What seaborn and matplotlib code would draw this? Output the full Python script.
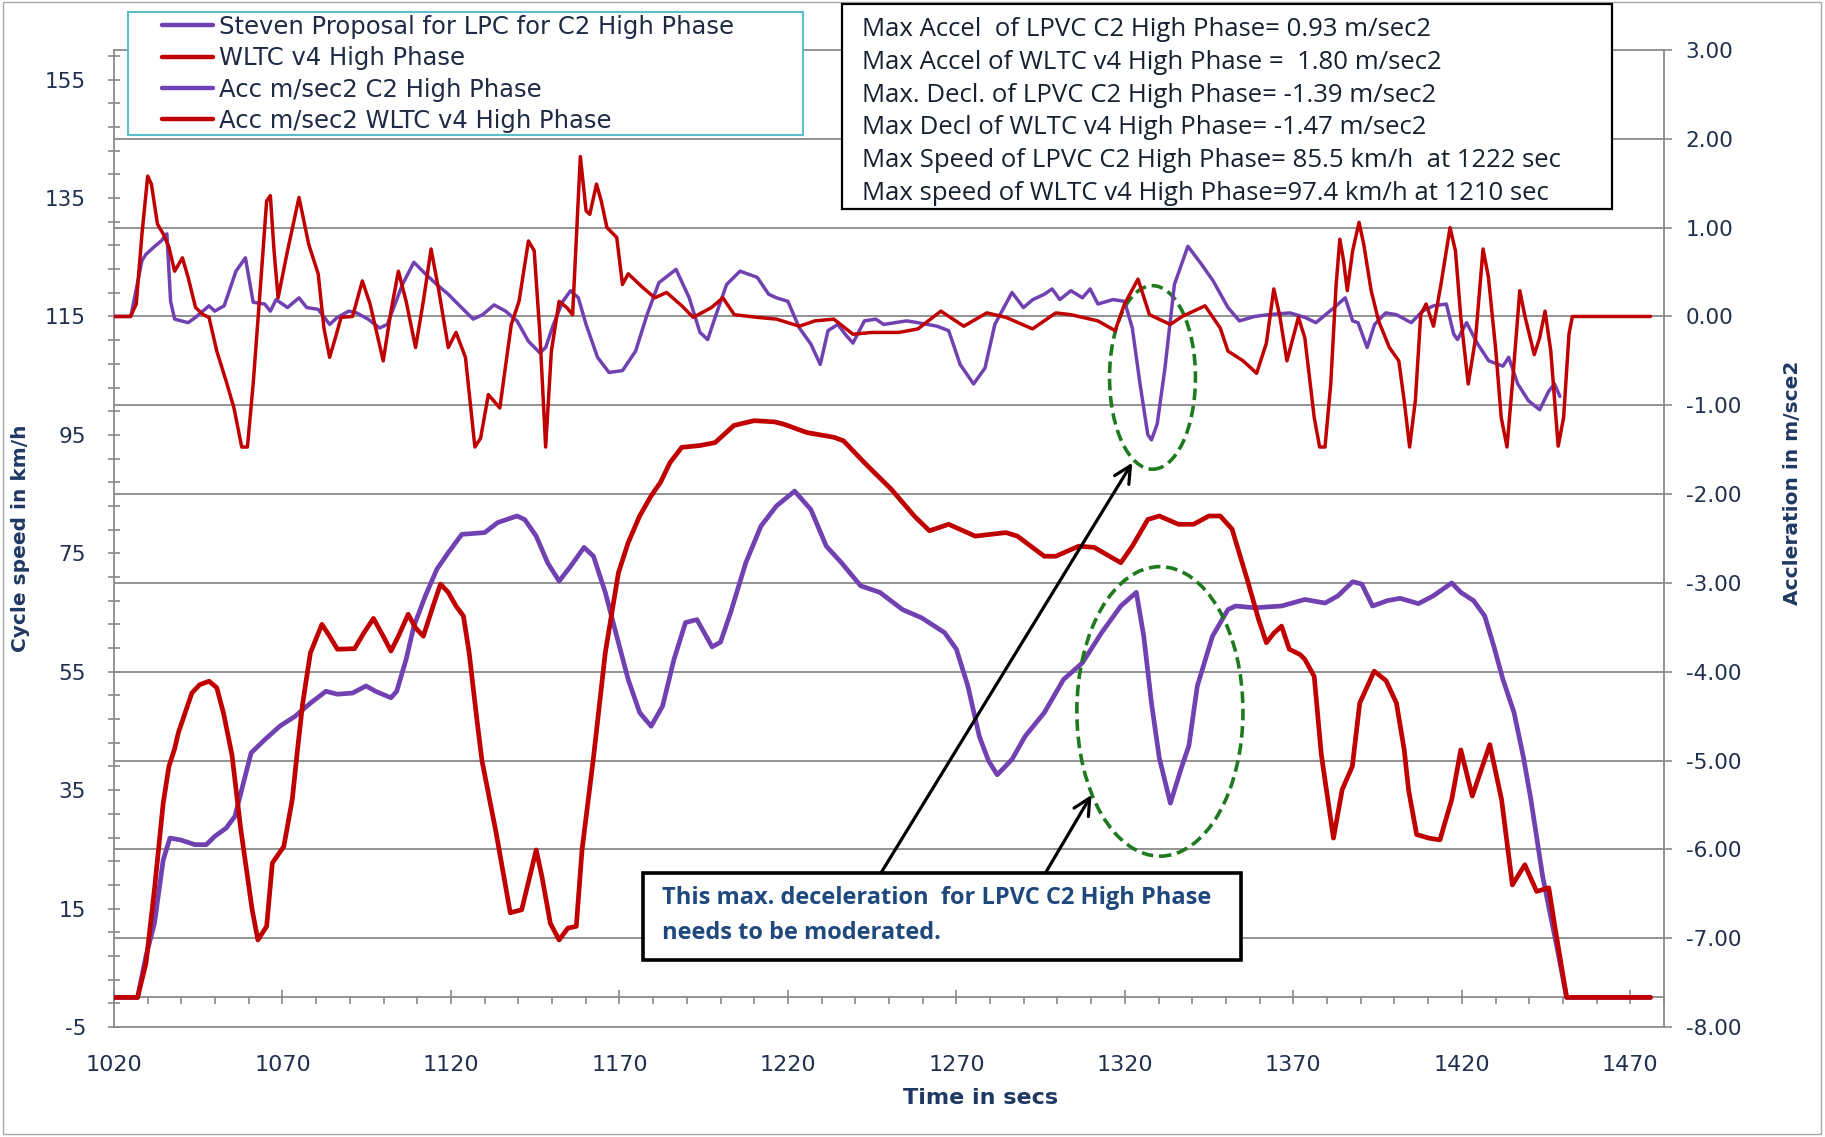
import numpy as np
import matplotlib
matplotlib.use("Agg")
import matplotlib.pyplot as plt
import seaborn as sns
from matplotlib.patches import Ellipse, Rectangle

# ---------------- data ----------------
# LPVC C2 high phase speed (km/h)
lpvc_t = [1020, 1027, 1029.5, 1032, 1034.6, 1036.6, 1039.7, 1044, 1047.4, 1049.9, 1053.3, 1055.9,
          1058.4, 1060.7, 1064.7, 1069.2, 1073.8, 1078.3, 1082.9, 1086.3, 1090.8, 1094.8, 1097.6,
          1102.2, 1103.9, 1106.7, 1109, 1112.4, 1115.8, 1119.2, 1123.2, 1130, 1133.9, 1139.6, 1141.9,
          1145.3, 1148.7, 1152.1, 1155.5, 1159.5, 1162.3, 1165.8, 1169.2, 1172.6, 1176, 1179.4,
          1182.8, 1186.2, 1189.6, 1193, 1197.5, 1200, 1203, 1207.5, 1212, 1216.6, 1222, 1226.8,
          1231.4, 1235.9, 1241.6, 1247.3, 1254, 1259.7, 1266.5, 1270, 1273.4, 1276.8, 1279.5, 1282.1,
          1284.5, 1286.5, 1290.4, 1296.1, 1301.8, 1307.4, 1313.1, 1318.8, 1323.4, 1325.6, 1327.9,
          1330.2, 1333.5, 1336.9, 1339, 1341.5, 1346, 1350.6, 1352.9, 1358.5, 1366.5, 1373.4, 1379.4,
          1383.2, 1387.6, 1390.3, 1393.5, 1397.9, 1401.7, 1407.1, 1411.5, 1417, 1419.7, 1423.5,
          1426.8, 1429.5, 1432.2, 1435.5, 1438.3, 1440.5, 1444, 1445.8, 1448.4, 1451.1, 1476]
lpvc_speed = [0, 0, 7, 12.5, 23.2, 26.9, 26.6, 25.8, 25.8, 27.2, 28.6, 30.6,
              36.2, 41.3, 43.5, 45.8, 47.5, 49.7, 51.7, 51.2, 51.4, 52.6, 51.7,
              50.6, 51.7, 57.1, 62.7, 67.8, 72.3, 75.1, 78.2, 78.5, 80.2, 81.3, 80.7,
              77.9, 73.4, 70.3, 72.8, 76, 74.5, 68.4, 61, 53.7, 48.1, 45.8,
              49.2, 57.1, 63.3, 63.8, 59.2, 60, 65, 73.4, 79.6, 83, 85.5, 82.4,
              76.2, 73.4, 69.5, 68.4, 65.5, 64.1, 61.6, 58.8, 52.6, 44.1, 40, 37.6,
              39, 40.2, 44.1, 48.1, 53.7, 56.5, 61.6, 66.1, 68.4, 61, 49.7,
              40.5, 32.8, 39, 42.5, 52.6, 61, 65.5, 66.1, 65.8, 66.1, 67.2, 66.6,
              67.8, 70.2, 69.8, 66.1, 67, 67.4, 66.5, 67.8, 70, 68.4, 67,
              64.4, 59.3, 53.7, 48.1, 40.5, 33.4, 20.4, 15.3, 8, 0, 0]

# WLTC v4 high phase speed (km/h)
wltc_t = [1020, 1027, 1029.5, 1032, 1034.6, 1036.3, 1038, 1039.1, 1043.1, 1045.4, 1048.2, 1050.5,
          1052.5, 1055, 1057.6, 1061, 1062.7, 1065.3, 1067, 1070.4, 1072.9, 1074.3, 1076, 1078.3,
          1081.7, 1084, 1086.3, 1091.4, 1094.2, 1097, 1099.9, 1102.2, 1104.4, 1107.3, 1109.5,
          1111.8, 1114.7, 1116.9, 1119.2, 1121.5, 1123.7, 1125.4, 1127.7, 1129.2, 1133.4, 1137.6,
          1141, 1145.3, 1147, 1149.5, 1152.1, 1154.7, 1157.2, 1158.9, 1162.3, 1165.8, 1169.7,
          1172.6, 1176, 1179.4, 1182.2, 1185, 1188.5, 1193.9, 1198.4, 1204, 1210, 1216, 1218.8,
          1225.6, 1233.6, 1236.5, 1242.7, 1250.7, 1257.5, 1262, 1267.7, 1275.6, 1284.7, 1288.1,
          1296.1, 1299.5, 1306.3, 1310.9, 1318.8, 1322.2, 1326.8, 1330.2, 1335.9, 1340.4, 1344.9,
          1348.3, 1351.8, 1356.3, 1359.7, 1362, 1364.2, 1366.5, 1368.8, 1372, 1373.4, 1376.2,
          1378.3, 1381.9, 1384.5, 1387.5, 1389.7, 1394, 1397.5, 1400.6, 1402.9, 1404.2, 1406.6,
          1410.2, 1413.5, 1417, 1419.7, 1423.1, 1428.3, 1431.8, 1435, 1438.7, 1442.2, 1445.8,
          1447.6, 1451.1, 1476]
wltc_speed = [0, 0, 5.8, 18.2, 32.8, 39, 42, 44.7, 51.4, 52.8, 53.4, 52.3,
              48, 41, 28.5, 14.8, 9.7, 12, 22.7, 25.5, 33.4, 41, 49.7, 58.2,
              63, 61, 58.8, 58.9, 61.6, 64, 61, 58.5, 61, 64.7, 62.4,
              61, 66.1, 69.8, 68.4, 66.1, 64.4, 58.2, 46.9, 40, 27.8, 14.3,
              14.8, 24.9, 20.4, 12.5, 9.7, 11.7, 12, 24.9, 40.5, 58.2, 71.7,
              76.8, 81.3, 84.7, 87, 90.3, 92.9, 93.2, 93.7, 96.6, 97.4, 97.2, 96.8,
              95.4, 94.6, 94, 90.3, 85.8, 81.3, 78.8, 79.9, 77.9, 78.5, 77.9,
              74.5, 74.5, 76.2, 76, 73.4, 76.2, 80.7, 81.3, 79.9, 79.9, 81.3,
              81.3, 79.1, 70.6, 63.8, 59.9, 61.5, 62.7, 58.8, 57.9, 57.1, 54.2,
              41, 26.9, 35.1, 39, 49.7, 55.1, 53.5, 49.7, 41.8, 35, 27.5,
              26.9, 26.6, 33.4, 41.8, 34, 42.7, 33.4, 19, 22.4, 17.9, 18.5,
              12, 0, 0]

# LPVC C2 high phase acceleration (m/s2)
lpvc_acc_t = [1020, 1025, 1028.3, 1029.5, 1031.8, 1034, 1035.7, 1036.8, 1038, 1042, 1044.2, 1048.2,
              1049.9, 1052.7, 1056.2, 1059, 1061.3, 1064.7, 1066.4, 1068.1, 1071.5, 1074.9, 1077.2,
              1080.6, 1084, 1086.3, 1089.7, 1092, 1095.4, 1098.8, 1101.1, 1105.6, 1109, 1112.4,
              1115.8, 1119.2, 1122.6, 1126.6, 1129.4, 1132.8, 1136.2, 1139.6, 1143, 1146.4, 1148.1,
              1150.4, 1153.2, 1155.5, 1157.8, 1160.1, 1163.5, 1166.9, 1170.9, 1174.8, 1178.2, 1181.7,
              1186.8, 1190.7, 1193.9, 1196.2, 1198.4, 1201.8, 1205.8, 1210.9, 1214.3, 1216.6, 1220,
              1223.4, 1226.8, 1229.6, 1231.9, 1234.8, 1237, 1239.3, 1242.7, 1246.1, 1248.4, 1255.2,
              1258.6, 1264.3, 1267.7, 1271.1, 1275.1, 1278.5, 1281.4, 1286.5, 1289.9, 1292.7, 1296.1,
              1298.4, 1300.7, 1304, 1307.4, 1309.7, 1312, 1316.5, 1319.9, 1322.2, 1324.5, 1326.8,
              1327.9, 1329.6, 1331.9, 1334.7, 1338.7, 1342.7, 1346.2, 1350.6, 1354, 1358.5, 1362.5,
              1369, 1373.4, 1376.7, 1382.1, 1385.4, 1387.6, 1389.2, 1391.9, 1394.1, 1397.4, 1400.6,
              1405, 1408.3, 1411.6, 1415.4, 1417.6, 1418.7, 1421.4, 1424.7, 1428, 1432.2, 1433.9,
              1436.6, 1439.8, 1443.1, 1445.8, 1447.5, 1449.1]
lpvc_acc = [0, 0, 0.63, 0.7, 0.78, 0.85, 0.93, 0.17, -0.03, -0.07, -0.01, 0.12,
            0.06, 0.12, 0.51, 0.66, 0.16, 0.14, 0.06, 0.19, 0.1, 0.21, 0.1,
            0.08, -0.09, -0.01, 0.06, 0.04, -0.03, -0.13, -0.09, 0.36, 0.61, 0.48,
            0.36, 0.25, 0.12, -0.03, 0.02, 0.13, 0.06, -0.05, -0.28, -0.41, -0.35,
            -0.09, 0.17, 0.29, 0.21, -0.09, -0.46, -0.63, -0.61, -0.39, 0.02, 0.38,
            0.53, 0.21, -0.18, -0.26, -0.01, 0.36, 0.51, 0.44, 0.25, 0.21, 0.17,
            -0.13, -0.31, -0.54, -0.16, -0.09, -0.2, -0.3, -0.05, -0.03, -0.09, -0.05,
            -0.07, -0.11, -0.16, -0.54, -0.76, -0.58, -0.09, 0.27, 0.1, 0.19, 0.25,
            0.31, 0.19, 0.29, 0.21, 0.31, 0.14, 0.19, 0.17, -0.13, -0.76, -1.33,
            -1.39, -1.21, -0.58, 0.36, 0.79, 0.59, 0.4, 0.1, -0.05, 0, 0.02,
            0.04, -0.01, -0.07, 0.1, 0.21, -0.05, -0.07, -0.35, -0.09, 0.04, 0.02,
            -0.07, 0.06, 0.12, 0.14, -0.2, -0.26, -0.07, -0.31, -0.5, -0.56, -0.46,
            -0.76, -0.95, -1.05, -0.84, -0.76, -0.9]

# WLTC v4 high phase acceleration (m/s2)
wltc_acc_t = [1020, 1024.9, 1026.6, 1028.3, 1030, 1031.1, 1032.9, 1034.6, 1036.3, 1038, 1040.3, 1042,
              1044.2, 1046.5, 1048.2, 1050.5, 1053.3, 1055.6, 1057.9, 1059.6, 1061.3, 1063.5, 1065.3,
              1066.4, 1067.5, 1068.7, 1071.5, 1074.9, 1077.8, 1080.6, 1082.3, 1084, 1085.7, 1087.4,
              1090.8, 1093.7, 1096, 1099.9, 1102.2, 1104.4, 1106.7, 1109.5, 1111.8, 1114.1, 1116.4,
              1119.2, 1121.5, 1124.3, 1127.1, 1128.8, 1131.1, 1134.5, 1137.9, 1140.2, 1143, 1144.7,
              1146.4, 1148.1, 1149.8, 1152.1, 1154.4, 1156.1, 1158.4, 1160.1, 1161.2, 1163.2, 1164.6,
              1166.3, 1169.2, 1170.9, 1172.6, 1177.1, 1180.5, 1184, 1188.5, 1191.9, 1197.3, 1200.7,
              1204.1, 1210.9, 1216.6, 1223.4, 1228, 1233.6, 1239.3, 1245, 1252.9, 1258.6, 1265.4,
              1272.2, 1279, 1284.7, 1292.6, 1299.5, 1304, 1312, 1317.1, 1319.9, 1323.9, 1327.3,
              1333.5, 1337, 1343.8, 1348.3, 1350.6, 1355.1, 1359.1, 1362, 1364.2, 1366, 1368.1,
              1371.5, 1373.4, 1376.2, 1377.8, 1379.4, 1381.1, 1382.7, 1383.8, 1384.9, 1386, 1387.6,
              1389.5, 1390.9, 1393.1, 1395.3, 1398.5, 1401.3, 1402.9, 1404.5, 1406.2, 1407.8, 1409.4,
              1411.6, 1413.8, 1416.5, 1418.1, 1419.7, 1421.9, 1424.1, 1426.3, 1427.9, 1430.1, 1431.7,
              1433.4, 1435, 1437.2, 1438.8, 1441.5, 1443.1, 1444.7, 1446.4, 1448.6, 1450.2, 1451.8,
              1452.8, 1476]
wltc_acc = [0, 0, 0.14, 0.93, 1.58, 1.49, 1.04, 0.93, 0.78, 0.51, 0.66, 0.44,
            0.1, 0.02, -0.01, -0.39, -0.73, -1.03, -1.47, -1.47, -0.76, 0.36, 1.3,
            1.36, 0.74, 0.21, 0.74, 1.34, 0.81, 0.48, -0.13, -0.46, -0.24, -0.01,
            0, 0.4, 0.14, -0.5, 0.06, 0.51, 0.17, -0.35, 0.17, 0.76, 0.29,
            -0.35, -0.18, -0.46, -1.47, -1.37, -0.88, -1.03, -0.09, 0.17, 0.85, 0.74,
            -0.2, -1.47, -0.39, 0.17, 0.1, 0.02, 1.80, 1.19, 1.15, 1.49, 1.3,
            1.0, 0.89, 0.36, 0.48, 0.32, 0.21, 0.27, 0.12, -0.01, 0.1, 0.21,
            0.02, -0.01, -0.03, -0.11, -0.05, -0.03, -0.2, -0.18, -0.18, -0.14, 0.06,
            -0.11, 0.04, -0.01, -0.14, 0.04, 0.02, -0.05, -0.16, 0.14, 0.42, 0.02,
            -0.09, 0, 0.12, -0.13, -0.39, -0.5, -0.64, -0.3, 0.31, 0.0, -0.5,
            -0.01, -0.24, -1.14, -1.47, -1.47, -0.76, 0.36, 0.87, 0.63, 0.29, 0.74,
            1.06, 0.81, 0.29, -0.05, -0.35, -0.5, -0.95, -1.47, -0.95, 0.02, 0.14,
            -0.11, 0.36, 1.0, 0.74, -0.01, -0.76, -0.24, 0.76, 0.44, -0.39, -1.14,
            -1.47, -0.76, 0.29, -0.01, -0.43, -0.24, 0.06, -0.39, -1.46, -1.14, -0.2,
            0, 0]

series_labels = ["Steven Proposal for LPC for C2 High Phase", "WLTC v4 High Phase",
                 "Acc m/sec2 C2 High Phase", "Acc m/sec2 WLTC v4 High Phase"]
speed_ticks = list(range(-5, 156, 20))
acc_ticks = list(range(-8, 4))
time_ticks = list(range(1020, 1471, 50))

# ---------------- styling ----------------
sns.set_theme(style="white")
plt.rcParams["font.family"] = ["DejaVu Sans"]

PURPLE = "#7141B2"
RED = "#C00000"
GRID = "#8A8A8A"
TICK_TXT = "#1F2F4D"
TITLE_TXT = "#1F3864"
GREEN = "#1F7A1F"

W_PX, H_PX = 1825, 1137
SPEED_LIM = (-5, 160)
ACC_LIM = (-8, 3)
X_LIM = (1020, 1480)


def fx(px):
    return px / W_PX


def fy(py):
    return 1 - py / H_PX


fig = plt.figure(figsize=(W_PX / 100, H_PX / 100), dpi=100)
fig.patch.set_facecolor("white")
ax = fig.add_axes([fx(114), fy(1027), fx(1664) - fx(114), fy(50) - fy(1027)])
ax2 = ax.twinx()

ax.set_xlim(X_LIM)
ax.set_ylim(SPEED_LIM)
ax2.set_ylim(ACC_LIM)

# horizontal gridlines belong to the acceleration scale; drawn beneath the speed traces
for a in acc_ticks:
    s = SPEED_LIM[0] + (a - ACC_LIM[0]) * (SPEED_LIM[1] - SPEED_LIM[0]) / (ACC_LIM[1] - ACC_LIM[0])
    ax.axhline(s, color=GRID, lw=1.3, zorder=0.5, clip_on=False)

# speed traces
sns.lineplot(x=lpvc_t, y=lpvc_speed, ax=ax, color=PURPLE, linewidth=3.4,
             estimator=None, sort=False, label=series_labels[0], zorder=3)
sns.lineplot(x=wltc_t, y=wltc_speed, ax=ax, color=RED, linewidth=3.4,
             estimator=None, sort=False, label=series_labels[1], zorder=4)
# acceleration traces
sns.lineplot(x=lpvc_acc_t, y=lpvc_acc, ax=ax2, color=PURPLE, linewidth=2.5,
             estimator=None, sort=False, label=series_labels[2], zorder=3)
sns.lineplot(x=wltc_acc_t, y=wltc_acc, ax=ax2, color=RED, linewidth=2.5,
             estimator=None, sort=False, label=series_labels[3], zorder=4)

h1, l1 = ax.get_legend_handles_labels()
h2, l2 = ax2.get_legend_handles_labels()
for a_ in (ax, ax2):
    if a_.get_legend() is not None:
        a_.get_legend().remove()

# ---- left (speed) axis
ax.set_yticks(speed_ticks)
ax.set_yticks(np.arange(-5, 161, 4), minor=True)
ax.set_yticklabels([str(v) for v in speed_ticks])
ax.tick_params(axis="y", which="both", left=True, right=False, direction="inout",
               length=8.5, width=1.2, color=GRID)
ax.tick_params(axis="y", which="major", labelsize=15.5, labelcolor=TICK_TXT, pad=16)

# ---- time axis line sits at speed 0
ax.spines["bottom"].set_position(("data", 0))
ax.set_xticks(time_ticks)
ax.set_xticks(np.arange(1020, 1481, 10), minor=True)
ax.tick_params(axis="x", which="major", bottom=True, direction="inout", length=10,
               width=1.2, color=GRID, labelbottom=False)
ax.tick_params(axis="x", which="minor", bottom=True, direction="out", length=5,
               width=1.2, color=GRID)
ax.set_xlabel("")
ax.set_ylabel("")

sec = ax.secondary_xaxis(0)
sec.set_xticks(time_ticks)
sec.set_xticklabels([str(v) for v in time_ticks])
sec.tick_params(axis="x", length=0, labelsize=16, labelcolor=TICK_TXT, pad=20)
for sp in sec.spines.values():
    sp.set_visible(False)

for name in ("top", "right"):
    ax.spines[name].set_visible(False)
ax.spines["left"].set_color(GRID)
ax.spines["left"].set_linewidth(1.3)
ax.spines["bottom"].set_color(GRID)
ax.spines["bottom"].set_linewidth(1.3)

# ---- right (acceleration) axis
ax2.set_yticks(acc_ticks)
ax2.set_yticklabels([f"{v:.2f}" for v in acc_ticks])
ax2.tick_params(axis="y", which="major", right=True, left=False, direction="out",
                length=5.5, width=1.2, color=GRID, labelsize=15.5,
                labelcolor=TICK_TXT, pad=10)
for name in ("top", "left", "bottom"):
    ax2.spines[name].set_visible(False)
ax2.spines["right"].set_color(GRID)
ax2.spines["right"].set_linewidth(1.3)
ax2.set_ylabel("")
ax2.grid(False)
ax.grid(False)

# axis titles
fig.text(fx(981), fy(1098), "Time in secs", ha="center", va="center",
         fontsize=16, fontweight="bold", color=TITLE_TXT)
fig.text(fx(21), fy(538), "Cycle speed in km/h", ha="center", va="center",
         rotation=90, fontsize=14.5, fontweight="bold", color=TITLE_TXT)
fig.text(fx(1793), fy(483), "Accleration in m/sce2", ha="center", va="center",
         rotation=90, fontsize=14.5, fontweight="bold", color=TITLE_TXT)

# ---- highlighted deceleration events
ax.add_patch(Ellipse((1328.2, 104.7), 25.5, 31, fill=False, edgecolor=GREEN,
                     lw=2.6, linestyle=(0, (3.2, 1.6)), zorder=6))
ax.add_patch(Ellipse((1330.4, 48.3), 49.3, 48.9, fill=False, edgecolor=GREEN,
                     lw=2.6, linestyle=(0, (3.2, 1.6)), zorder=6))
arrow_kw = dict(arrowstyle="->", color="black", lw=2.3, mutation_scale=30,
                shrinkA=0, shrinkB=0)
ax.annotate("", xy=(1322.2, 90.3), xytext=(1247.6, 21.0), arrowprops=arrow_kw,
            zorder=7, annotation_clip=False)
ax.annotate("", xy=(1310.1, 34.2), xytext=(1296.1, 20.7), arrowprops=arrow_kw,
            zorder=7, annotation_clip=False)

# note box
fig.patches.append(Rectangle((fx(642.5), fy(960)), fx(1241) - fx(642.5), fy(873) - fy(960),
                             transform=fig.transFigure, facecolor="white",
                             edgecolor="black", lw=2.6, zorder=5))
note_lines = ["This max. deceleration  for LPVC C2 High Phase", "needs to be moderated."]
for i, line in enumerate(note_lines):
    fig.text(fx(662), fy(898.5 + 34.4 * i), line, ha="left", va="center",
             fontsize=17, fontweight="bold", family=["Open Sans", "DejaVu Sans"],
             color="#1F497D", zorder=6)

# ---- summary box
i_lp = int(np.argmax(lpvc_speed))
i_wl = int(np.argmax(wltc_speed))
summary = [
    f"Max Accel  of LPVC C2 High Phase= {max(lpvc_acc):.2f} m/sec2",
    f"Max Accel of WLTC v4 High Phase =  {max(wltc_acc):.2f} m/sec2",
    f"Max. Decl. of LPVC C2 High Phase= {min(lpvc_acc):.2f} m/sec2",
    f"Max Decl of WLTC v4 High Phase= {min(wltc_acc):.2f} m/sec2",
    f"Max Speed of LPVC C2 High Phase= {lpvc_speed[i_lp]:.1f} km/h  at {lpvc_t[i_lp]:.0f} sec",
    f"Max speed of WLTC v4 High Phase={wltc_speed[i_wl]:.1f} km/h at {wltc_t[i_wl]:.0f} sec",
]
fig.patches.append(Rectangle((fx(842), fy(209)), fx(1612) - fx(842), fy(4) - fy(209),
                             transform=fig.transFigure, facecolor="white",
                             edgecolor="black", lw=1.6, zorder=5))
for i, line in enumerate(summary):
    fig.text(fx(862), fy(29.5 + 32.8 * i), line, ha="left", va="center",
             fontsize=18.5, family=["Open Sans", "DejaVu Sans"], color="#17202E", zorder=6)

# ---- legend
fig.patches.append(Rectangle((fx(128), fy(135)), fx(803) - fx(128), fy(11.7) - fy(135),
                             transform=fig.transFigure, facecolor="white",
                             edgecolor="#5BBFCB", lw=1.5, zorder=5))
leg = fig.legend(h1 + h2, l1 + l2, loc="upper left",
                 bbox_to_anchor=(fx(162), fy(15)), frameon=False, borderpad=0,
                 borderaxespad=0, handlelength=2.1, handletextpad=0.25,
                 labelspacing=0.3, fontsize=17.5, labelcolor="#1F2A44")
leg.set_zorder(6)
for ln in leg.get_lines():
    ln.set_linewidth(3.2)

# outer chart border
fig.patches.append(Rectangle((fx(3), fy(1134)), fx(1821) - fx(3), fy(2) - fy(1134),
                             transform=fig.transFigure, fill=False,
                             edgecolor="#A8A8A8", lw=1.0, zorder=0))

fig.savefig("out.png", dpi=100, facecolor="white")
